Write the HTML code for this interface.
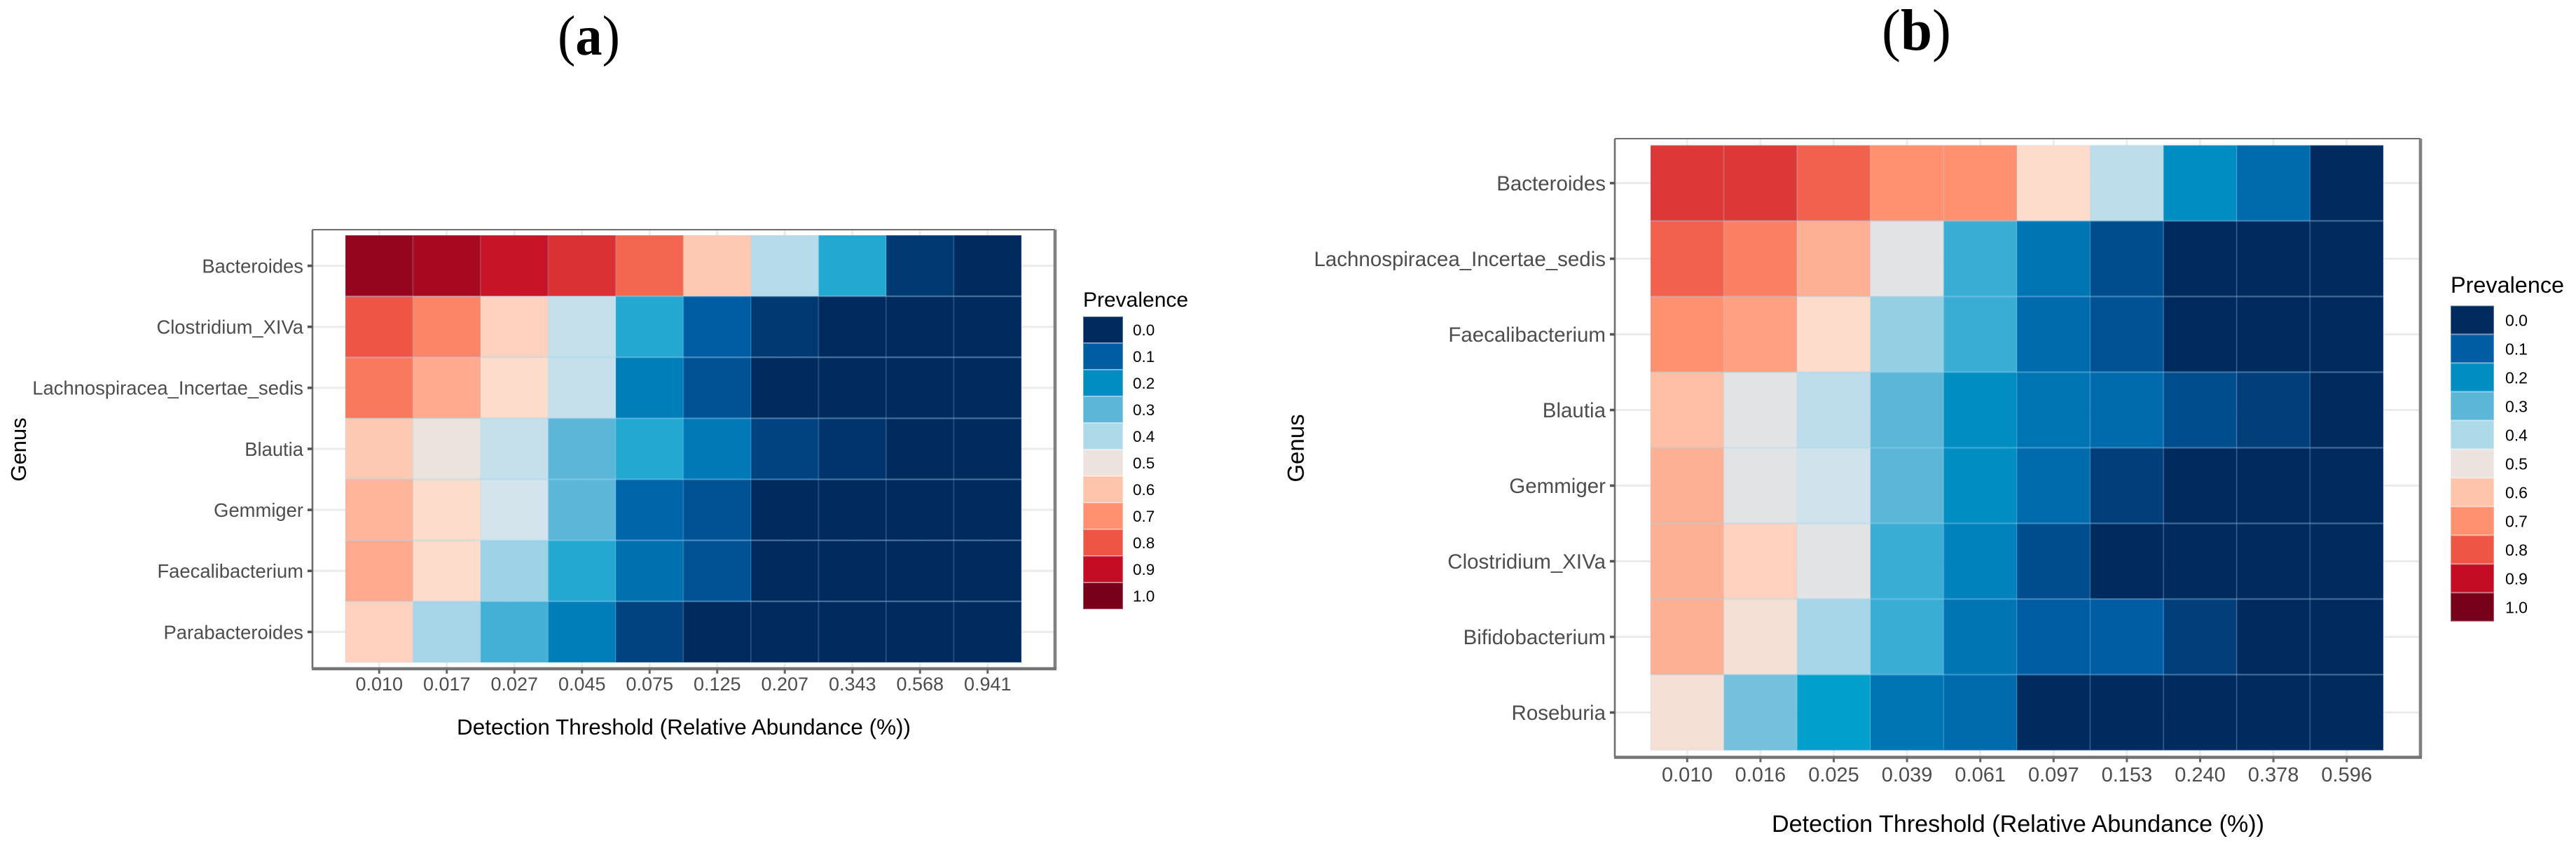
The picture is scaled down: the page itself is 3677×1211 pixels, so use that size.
<!DOCTYPE html>
<html lang="en">
<head>
<meta charset="utf-8">
<title>Prevalence heatmaps</title>
<style>
html,body{margin:0;padding:0;background:#fff;}
svg{display:block;}
text{font-family:"Liberation Sans",sans-serif;}
.panel-letter{font-family:"Liberation Serif",serif;fill:#000;}
</style>
</head>
<body>
<svg id="figure" xmlns="http://www.w3.org/2000/svg" width="3677" height="1211" viewBox="0 0 3677 1211">
  <rect x="0" y="0" width="3677" height="1211" fill="#ffffff"/>
  <text class="panel-letter" x="796" y="78" font-size="80" textLength="89" lengthAdjust="spacingAndGlyphs">(<tspan font-weight="bold">a</tspan>)</text>
  <text class="panel-letter" x="2686" y="71" font-size="84" textLength="99" lengthAdjust="spacingAndGlyphs">(<tspan font-weight="bold">b</tspan>)</text>
</svg>
<script>
var legendBreaks = [0.0, 0.1, 0.2, 0.3, 0.4, 0.5, 0.6, 0.7, 0.8, 0.9, 1.0];
var rampValues = [0.0, 0.1, 0.2, 0.22, 0.3, 0.4, 0.45, 0.5, 0.55, 0.6, 0.7, 0.8, 0.9, 1.0];
var rampColors = ['#012a5e','#005ca3','#008dc2','#009fcc','#5cb6d8','#aed9e9','#d4e4ed','#ece3df','#fedccc','#fec4ac','#ff9170','#ee5544','#c40d24','#78001a'];

var genusA = ['Bacteroides','Clostridium_XIVa','Lachnospiracea_Incertae_sedis','Blautia','Gemmiger','Faecalibacterium','Parabacteroides'];
var thresholdsA = ['0.010','0.017','0.027','0.045','0.075','0.125','0.207','0.343','0.568','0.941'];
var prevalenceA = [
  [0.96,0.935,0.89,0.85,0.77,0.59,0.41,0.25,0.03,0.00],
  [0.80,0.72,0.57,0.43,0.25,0.10,0.03,0.00,0.00,0.00],
  [0.74,0.65,0.55,0.43,0.17,0.08,0.00,0.00,0.00,0.00],
  [0.59,0.50,0.43,0.30,0.25,0.16,0.05,0.02,0.00,0.00],
  [0.63,0.55,0.45,0.30,0.12,0.08,0.00,0.00,0.00,0.00],
  [0.65,0.55,0.38,0.25,0.14,0.08,0.00,0.00,0.00,0.00],
  [0.57,0.39,0.28,0.17,0.05,0.00,0.00,0.00,0.00,0.00]
];

var genusB = ['Bacteroides','Lachnospiracea_Incertae_sedis','Faecalibacterium','Blautia','Gemmiger','Clostridium_XIVa','Bifidobacterium','Roseburia'];
var thresholdsB = ['0.010','0.016','0.025','0.039','0.061','0.097','0.153','0.240','0.378','0.596'];
var prevalenceB = [
  [0.84,0.84,0.78,0.70,0.70,0.55,0.42,0.20,0.13,0.00],
  [0.78,0.73,0.64,0.48,0.27,0.15,0.07,0.00,0.00,0.00],
  [0.70,0.67,0.55,0.37,0.27,0.13,0.08,0.00,0.00,0.00],
  [0.61,0.48,0.42,0.30,0.20,0.15,0.13,0.07,0.04,0.00],
  [0.64,0.48,0.445,0.30,0.20,0.13,0.04,0.00,0.00,0.00],
  [0.64,0.57,0.48,0.27,0.18,0.07,0.00,0.00,0.00,0.00],
  [0.64,0.525,0.39,0.27,0.15,0.10,0.10,0.04,0.00,0.00],
  [0.525,0.33,0.22,0.15,0.13,0.00,0.00,0.00,0.00,0.00]
];

var svgNS = 'http://www.w3.org/2000/svg';
var root = document.getElementById('figure');

function mk(tag, attrs, parent, txt) {
  var el = document.createElementNS(svgNS, tag);
  for (var k in attrs) { el.setAttribute(k, attrs[k]); }
  if (txt !== undefined) { el.textContent = txt; }
  parent.appendChild(el);
  return el;
}
function hexToRgb(h) {
  return [parseInt(h.substr(1,2),16), parseInt(h.substr(3,2),16), parseInt(h.substr(5,2),16)];
}
function colorScale(v) {
  var n = rampValues.length;
  var c = Math.max(rampValues[0], Math.min(rampValues[n-1], v));
  var i = 0;
  while (i < n - 2 && c > rampValues[i+1]) { i++; }
  var f = (c - rampValues[i]) / (rampValues[i+1] - rampValues[i]);
  var a = hexToRgb(rampColors[i]);
  var b = hexToRgb(rampColors[i+1]);
  return 'rgb(' + Math.round(a[0]+(b[0]-a[0])*f) + ',' + Math.round(a[1]+(b[1]-a[1])*f) + ',' + Math.round(a[2]+(b[2]-a[2])*f) + ')';
}

function drawPanel(cfg, genus, thresholds, values) {
  var g = mk('g', {}, root);
  
  

  var cols = thresholds.length;
  var rows = genus.length;
  var cw = (cfg.heatR - cfg.heatL) / cols;
  var ch = (cfg.heatB - cfg.heatT) / rows;
  function xBand(i) { return cfg.heatL + cw * i; }
  function yBand(j) { return cfg.heatT + ch * j; }
  function xMid(i) { return xBand(i) + cw / 2; }
  function yMid(j) { return yBand(j) + ch / 2; }

  /* grid lines */
  for (var j0 = 0; j0 < rows; j0++) {
    var hg = mk('line', {x1: cfg.panelL, x2: cfg.panelR, y1: yMid(j0), y2: yMid(j0), stroke: '#ececec', 'stroke-width': 3}, g);
    
    
  }
  for (var i0 = 0; i0 < cols; i0++) {
    var vg = mk('line', {x1: xMid(i0), x2: xMid(i0), y1: cfg.panelT, y2: cfg.panelB, stroke: '#ececec', 'stroke-width': 3}, g);
    
    
  }

  /* cells */
  for (var j = 0; j < rows; j++) {
    for (var i = 0; i < cols; i++) {
      var cell = mk('rect', {
        x: xBand(i), y: yBand(j), width: cw, height: ch,
        fill: colorScale(values[j][i]),
        stroke: 'rgba(170,215,240,0.14)', 'stroke-width': 2
      }, g);
      
      
    }
  }
  /* lighter seams between rows */
  for (var s = 1; s < rows; s++) {
    var seam = mk('line', {x1: cfg.heatL, x2: cfg.heatR, y1: yBand(s), y2: yBand(s), stroke: 'rgba(150,215,245,0.22)', 'stroke-width': 2.5}, g);
    
    
  }

  /* panel border */
  var bl = mk('line', {x1: cfg.panelL, x2: cfg.panelL, y1: cfg.panelT, y2: cfg.panelB, stroke: '#6e6e6e', 'stroke-width': 2.6}, g);
  
  
  var bt = mk('line', {x1: cfg.panelL, x2: cfg.panelR, y1: cfg.panelT, y2: cfg.panelT, stroke: '#6e6e6e', 'stroke-width': 2}, g);
  
  
  var br = mk('line', {x1: cfg.panelR, x2: cfg.panelR, y1: cfg.panelT, y2: cfg.panelB, stroke: '#808080', 'stroke-width': 4.6}, g);
  
  
  var bb = mk('line', {x1: cfg.panelL - 1, x2: cfg.panelR + 2, y1: cfg.panelB, y2: cfg.panelB, stroke: '#757575', 'stroke-width': 4.6}, g);
  
  

  /* y axis */
  for (var r = 0; r < rows; r++) {
    var yt = mk('line', {x1: cfg.panelL - 7, x2: cfg.panelL, y1: yMid(r), y2: yMid(r), stroke: '#555555', 'stroke-width': 3.6}, g);
    
    
    var yl = mk('text', {x: cfg.labelR, y: yMid(r) + cfg.yFont * 0.36, 'text-anchor': 'end', 'font-size': cfg.yFont, fill: '#4d4d4d'}, g, genus[r]);
    
    
  }

  /* x axis */
  for (var c = 0; c < cols; c++) {
    var xt = mk('line', {x1: xMid(c), x2: xMid(c), y1: cfg.panelB, y2: cfg.panelB + 7, stroke: '#666666', 'stroke-width': 3}, g);
    
    
    var xl = mk('text', {x: xMid(c), y: cfg.xLabelY, 'text-anchor': 'middle', 'font-size': cfg.xFont, fill: '#4d4d4d'}, g, thresholds[c]);
    
    
  }

  /* axis titles */
  var xTitle = mk('text', {x: cfg.xTitleX, y: cfg.xTitleY, 'font-size': cfg.xTitleFont, fill: '#000', textLength: cfg.xTitleW, lengthAdjust: 'spacingAndGlyphs'}, g, 'Detection Threshold (Relative Abundance (%))');
  
  
  var yTitle = mk('text', {transform: 'translate(' + cfg.yTitleX + ',' + cfg.yTitleY + ') rotate(-90)', 'text-anchor': 'middle', 'font-size': cfg.yTitleFont, fill: '#000'}, g, 'Genus');
  
  

  /* legend */
  var lg = mk('g', {}, root);
  
  
  var legTitle = mk('text', {x: cfg.legL, y: cfg.legTitleY, 'font-size': cfg.legTitleFont, fill: '#000'}, lg, 'Prevalence');
  
  
  var n = legendBreaks.length;
  var step = (cfg.legB - cfg.legT) / n;
  for (var k = 0; k < n; k++) {
    var key = mk('rect', {x: cfg.legL, y: cfg.legT + step * k, width: cfg.legW, height: step,
      fill: colorScale(legendBreaks[k]), stroke: 'rgba(255,255,255,0.35)', 'stroke-width': 2}, lg);
    
    
    var kl = mk('text', {x: cfg.legLabelX, y: cfg.legT + step * (k + 0.5) + cfg.legFont * 0.36, 'font-size': cfg.legFont, fill: '#000'}, lg, legendBreaks[k].toFixed(1));
    
    
  }
}

drawPanel({
  id: 'panel-a',
  panelL: 446, panelR: 1506, panelT: 328, panelB: 955,
  heatL: 493, heatR: 1458, heatT: 336, heatB: 946,
  labelR: 433, yFont: 27.4, xFont: 27, xLabelY: 986,
  xTitleX: 652, xTitleY: 1049, xTitleW: 648, xTitleFont: 31.3,
  yTitleX: 37, yTitleY: 642, yTitleFont: 31,
  legL: 1546, legW: 57, legT: 452, legB: 870,
  legTitleY: 438, legTitleFont: 30, legLabelX: 1617, legFont: 22.5
}, genusA, thresholdsA, prevalenceA);

drawPanel({
  id: 'panel-b',
  panelL: 2305, panelR: 3455, panelT: 198, panelB: 1081.5,
  heatL: 2356, heatR: 3402, heatT: 207.5, heatB: 1071.5,
  labelR: 2292, yFont: 29.5, xFont: 29, xLabelY: 1116,
  xTitleX: 2529, xTitleY: 1188, xTitleW: 703, xTitleFont: 34,
  yTitleX: 1861, yTitleY: 640, yTitleFont: 33,
  legL: 3498, legW: 62, legT: 436.5, legB: 887.5,
  legTitleY: 418, legTitleFont: 32.4, legLabelX: 3576, legFont: 23
}, genusB, thresholdsB, prevalenceB);
</script>
</body>
</html>
